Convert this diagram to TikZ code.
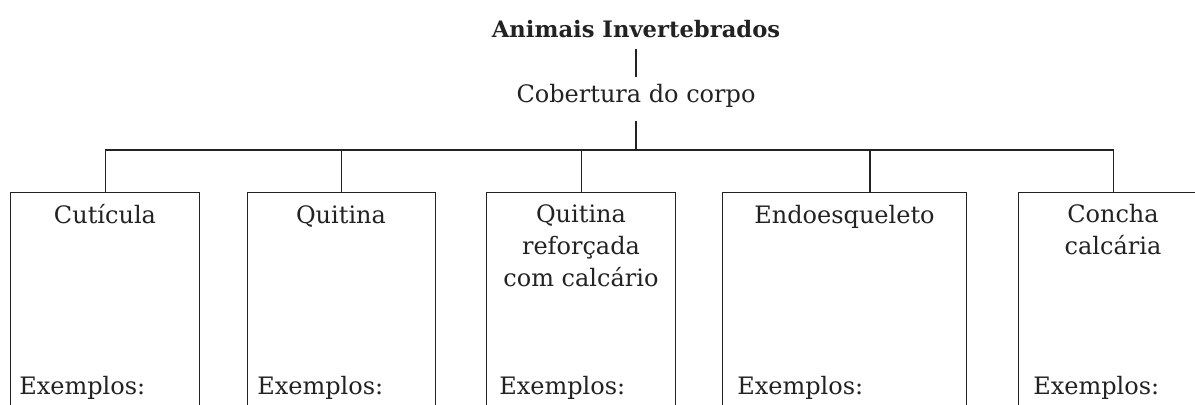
\documentclass[tikz,border=0pt]{standalone}
\usepackage{fontspec}
\setmainfont{DejaVu Serif}
\definecolor{ink}{HTML}{222222}
\begin{document}
\begin{tikzpicture}[x=0.75pt,y=-0.75pt,
  every node/.style={text=ink, font=\fontsize{18}{24}\selectfont},
  box/.style={draw=ink, line width=0.85pt, anchor=north west, inner sep=0pt, minimum height=171pt},
  lab/.style={anchor=base, align=center, inner sep=0pt},
  ex/.style={anchor=base west, inner sep=0pt},
  wire/.style={draw=ink, line width=0.85pt}]
\useasboundingbox (0,0) rectangle (1195,404);
\clip (0,0) rectangle (1195,404);
% headings
\node[lab, font=\bfseries\fontsize{17}{24}\selectfont] (root) at (636,37) {Animais Invertebrados};
\node[lab] (cob) at (636,102) {Cobertura do corpo};
% boxes
\node[box, minimum width=141.75pt] (b1) at (10,192) {};
\node[box, minimum width=141pt] (b2) at (247,192) {};
\node[box, minimum width=141.75pt] (b3) at (486,192) {};
\node[box, minimum width=183pt] (b4) at (722,192) {};
\node[box, minimum width=142.5pt] (b5) at (1018,192) {};
% box titles
\node[lab] (t1) at (105,223) {Cutícula};
\node[lab] (t2) at (341,223) {Quitina};
\node[lab, anchor=north] (t3) at (581,204) {Quitina\\reforçada\\com calcário};
\node[lab] (t4) at (844.5,223) {Endoesqueleto};
\node[lab, anchor=north] (t5) at (1113,204) {Concha\\calcária};
% examples
\node[ex] (e1) at (19,394) {Exemplos:};
\node[ex] (e2) at (257,394) {Exemplos:};
\node[ex] (e3) at (499,394) {Exemplos:};
\node[ex] (e4) at (737,394) {Exemplos:};
\node[ex] (e5) at (1033,394) {Exemplos:};
% connectors
\coordinate (hub) at (636,150);
\coordinate (k4) at (870,150);
\draw[wire] ([yshift=-8.25pt]root.south) -- ([yshift=5pt]cob.north);
\draw[wire] ([yshift=-10pt]cob.south) -- (hub);
\draw[wire] (b1.north |- hub) -- (b5.north |- hub);
\draw[wire] (b1.north |- hub) -- (b1.north);
\draw[wire] (b2.north |- hub) -- (b2.north);
\draw[wire] (b3.north |- hub) -- (b3.north);
\draw[wire] (k4) -- (k4 |- b4.north);
\draw[wire] (b5.north |- hub) -- (b5.north);
\end{tikzpicture}
\end{document}
